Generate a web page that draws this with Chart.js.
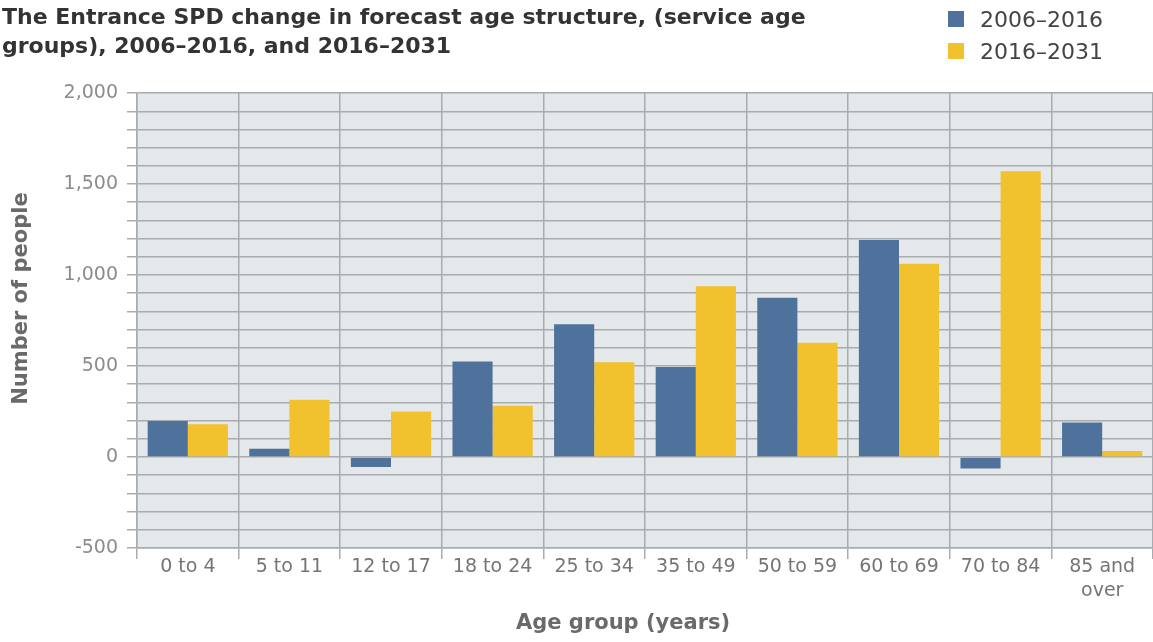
<!DOCTYPE html>
<html>
<head>
<meta charset="utf-8">
<title>The Entrance SPD change in forecast age structure</title>
<script src="https://cdn.jsdelivr.net/npm/chart.js@4/dist/chart.umd.min.js"></script>
<style>
    body { margin: 0; background: #fff; }
    #wrap { width: 1153px; height: 642px; }
</style>
</head>
<body>
<div id="wrap"><canvas id="chart" width="1153" height="642"></canvas></div>
<script>
// age groups (x axis)
const ageGroups = ['0 to 4', '5 to 11', '12 to 17', '18 to 24', '25 to 34', '35 to 49',
    '50 to 59', '60 to 69', '70 to 84', ['85 and', 'over']];
// change in number of people
const change2006to2016 = [198, 45, -55, 525, 730, 495, 875, 1193, -64, 190];
const change2016to2031 = [180, 315, 250, 281, 520, 938, 628, 1062, 1571, 33];
const seriesNames = ['2006–2016', '2016–2031'];
const seriesColors = ['#4f729d', '#f2c12e'];
// y axis range
const yMin = -500;
const yMax = 2000;
const yStep = 100;
const yLabelEvery = 500;

const titleLines = ['The Entrance SPD change in forecast age structure, (service age',
    'groups), 2006–2016, and 2016–2031'];

const font = 'DejaVu Sans';
const gridColor = '#a9acaf';

// grey plot background
let plotBackground = {
    id: 'plotBackground',
    beforeDraw: function (chart) {
        let a = chart.chartArea;
        let ctx = chart.ctx;
        ctx.save();
        ctx.fillStyle = '#e4e8eb';
        ctx.fillRect(a.left, a.top, a.right - a.left, a.bottom - a.top);
        ctx.restore();
    }
};

// legend stacked in the top right corner
let cornerLegend = {
    id: 'cornerLegend',
    afterDraw: function (chart) {
        let ctx = chart.ctx;
        ctx.save();
        ctx.font = '22px "' + font + '"';
        ctx.textBaseline = 'middle';
        ctx.textAlign = 'left';
        chart.data.datasets.forEach(function (ds, i) {
            let y = 19 + i * 32;
            ctx.fillStyle = ds.backgroundColor;
            ctx.fillRect(948, y - 8, 16, 16);
            ctx.fillStyle = '#444';
            ctx.fillText(ds.label, 980, y + 2);
        });
        ctx.restore();
    }
};

let ctx = document.getElementById('chart').getContext('2d');
let chart = new Chart(ctx, {
    type: 'bar',
    data: {
        labels: ageGroups,
        datasets: [
            {label: seriesNames[0], data: change2006to2016, backgroundColor: seriesColors[0]},
            {label: seriesNames[1], data: change2016to2031, backgroundColor: seriesColors[1]}
        ]
    },
    options: {
        responsive: false,
        animation: false,
        devicePixelRatio: 1,
        layout: {padding: {left: 2, right: 0, top: 0, bottom: 6}},
        datasets: {
            bar: {categoryPercentage: 0.79, barPercentage: 1.0, borderWidth: 0}
        },
        plugins: {
            legend: {display: false},
            tooltip: {enabled: false},
            title: {
                display: true,
                text: titleLines,
                align: 'start',
                color: '#333',
                font: {family: font, size: 22, weight: 'bold', lineHeight: 1.32},
                padding: {top: 4, bottom: 31}
            }
        },
        scales: {
            x: {
                grid: {color: gridColor, lineWidth: 1.5, tickLength: 11, offset: true},
                border: {color: gridColor, width: 1.5},
                ticks: {
                    color: '#757575',
                    padding: -4,
                    maxRotation: 0,
                    font: {family: font, size: 19, lineHeight: 1.26}
                },
                title: {
                    display: true,
                    // trailing spaces nudge the title left like the original
                    text: 'Age group (years)      ',
                    color: '#6a6a6a',
                    font: {family: font, size: 21, weight: 'bold', lineHeight: 1.2},
                    padding: {top: 12, bottom: 0}
                }
            },
            y: {
                min: yMin,
                max: yMax,
                afterFit: function (scale) {
                    scale.width = 135;
                },
                grid: {color: gridColor, lineWidth: 1.5, tickLength: 10},
                border: {color: gridColor, width: 1.5},
                ticks: {
                    stepSize: yStep,
                    autoSkip: false,
                    color: '#8c8c8c',
                    padding: 9,
                    font: {family: font, size: 19},
                    callback: function (value) {
                        if (value % yLabelEvery !== 0) return '';
                        return value.toLocaleString('en-US');
                    }
                },
                title: {
                    display: true,
                    // leading spaces nudge the title up like the original
                    text: '      Number of people',
                    color: '#6a6a6a',
                    font: {family: font, size: 21, weight: 'bold', lineHeight: 1.2},
                    padding: {top: 7, bottom: 0}
                }
            }
        }
    },
    plugins: [plotBackground, cornerLegend]
});
</script>
</body>
</html>
